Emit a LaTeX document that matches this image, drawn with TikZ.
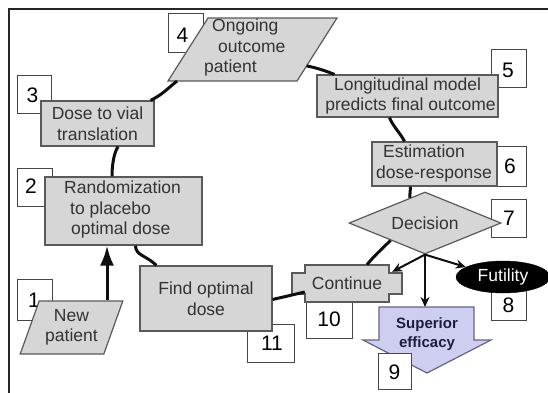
\documentclass[tikz,border=0pt]{standalone}
\usepackage{fontspec}
\setmainfont{Liberation Sans}
\usetikzlibrary{shapes.geometric,arrows.meta,calc}
\definecolor{shapefill}{RGB}{214,214,214}
\definecolor{shapeline}{RGB}{90,90,90}
\definecolor{numline}{RGB}{70,70,70}
\definecolor{lavfill}{RGB}{206,206,240}
\definecolor{lavline}{RGB}{100,100,130}
\definecolor{navytext}{RGB}{30,30,60}
\definecolor{looplinecol}{RGB}{15,15,15}
\tikzset{
  mainfont/.style={font=\fontsize{17.5}{20.5}\selectfont},
  gbox/.style={rectangle, draw=shapeline, fill=shapefill, line width=1.2pt, inner sep=0pt, mainfont, text=black!80},
  para/.style={trapezium, trapezium stretches=true, draw=shapeline, fill=shapefill, line width=1.2pt, inner sep=2pt, mainfont, text=black!80},
  shapepath/.style={draw=shapeline, fill=shapefill, line width=1.2pt},
  numbox/.style={rectangle, draw=numline, fill=white, line width=1.2pt, inner sep=0pt},
  numtext/.style={inner sep=0pt, font=\fontsize{21}{21}\selectfont},
  txt/.style={inner sep=0pt, mainfont, text=black!80},
  loopline/.style={draw=looplinecol, line width=3pt},
  decline/.style={draw=looplinecol, line width=2pt},
  decarrow/.style={decline, -{Stealth[length=10pt,width=9pt]}},
}
\begin{document}
\begin{tikzpicture}[x=1pt,y=-1pt]
\useasboundingbox (0,0) rectangle (548,392);
% frame
\draw[line width=2pt, black!85] (9,400) -- (9,9) -- (560,9);

% number boxes (behind shapes)
\node[numbox, minimum width=35pt, minimum height=41pt, anchor=north west] (l1) at (17,279) {};
\node[numtext] (m1) at (34,300) {1};
\node[numbox, minimum width=35pt, minimum height=38pt, anchor=north west] (l2) at (17,168) {};
\node[numtext] (m2) at (31,186) {2};
\node[numbox, minimum width=34pt, minimum height=38pt, anchor=north west] (l3) at (17,75) {};
\node[numtext] (m3) at (32.5,95.5) {3};
\node[numbox, minimum width=35pt, minimum height=39pt, anchor=north west] (l4) at (168,13) {};
\node[numtext] (m4) at (182.5,35.5) {4};
\node[numbox, minimum width=35pt, minimum height=38pt, anchor=north west] (l5) at (491,49) {};
\node[numtext] (m5) at (508,70.5) {5};
\node[numbox, minimum width=32pt, minimum height=40pt, anchor=north west] (l6) at (494,146) {};
\node[numtext] (m6) at (510,166) {6};
\node[numbox, minimum width=35pt, minimum height=38pt, anchor=north west] (l7) at (491,199) {};
\node[numtext] (m7) at (509,218) {7};
\node[numbox, minimum width=35pt, minimum height=38pt, anchor=north west] (l8) at (491,282) {};
\node[numtext] (m8) at (508.5,305) {8};
\node[numbox, minimum width=46pt, minimum height=42pt, anchor=north west] (l10) at (306,296) {};
\node[numtext] (m10) at (329,319) {10};
\node[numbox, minimum width=47pt, minimum height=38pt, anchor=north west] (l11) at (247,324) {};
\node[numtext] (m11) at (272,343) {11};

% main shapes
\node[para, trapezium left angle=67.5, trapezium right angle=112.5, minimum width=103pt, minimum height=53pt, align=center] (n1) at (71.5,327.5) {New\\patient};
\node[gbox, minimum width=157pt, minimum height=68pt] (n2) at (123.5,211) {};
\node[txt, align=left, anchor=north west] (t2) at (64,181) {Randomization\\\hspace{6pt}to placebo\\\hspace{7pt}optimal dose};
\node[gbox, minimum width=113pt, minimum height=45pt, align=center] (n3) at (97.5,123.5) {Dose to vial\\translation};
% parallelogram 4
\coordinate (n4tl) at (208,18);
\coordinate (n4tr) at (337,18);
\coordinate (n4br) at (297,81);
\coordinate (n4bl) at (168,81);
\draw[shapepath] (n4tl) -- (n4tr) -- (n4br) -- (n4bl) -- cycle;
\node[txt, align=left, anchor=north west] (t4) at (204,19) {\hspace{8pt}Ongoing\\\hspace{14pt}outcome\\patient};
\node[gbox, minimum width=181pt, minimum height=42pt, align=center] (n5) at (407.5,96) {Longitudinal model\\\hspace{6pt}predicts final outcome};
\node[gbox, minimum width=125pt, minimum height=44pt] (n6) at (434.5,164) {};
\node[txt, align=left, anchor=north west] (t6) at (376,145) {\hspace{7pt}Estimation\\dose-response};
\node[diamond, draw=shapeline, fill=shapefill, line width=1.2pt, inner sep=0pt, aspect=2.45, minimum width=152pt, minimum height=62pt, mainfont, text=black!80] (n7) at (425,223) {Decision};
\node[ellipse, fill=black, draw=black, minimum width=94pt, minimum height=32pt, inner sep=0pt, mainfont, text=white] (n8) at (503,277) {Futility};

% superior efficacy arrow
\draw[fill=lavfill, draw=lavline, line width=1.2pt] (379,307) -- (474,307) -- (474,340) -- (491,340) -- (427,373) -- (363,340) -- (379,340) -- cycle;
\node[align=center, inner sep=0pt, text=navytext, font=\fontsize{15}{19}\selectfont\bfseries] (n9) at (427,334) {Superior\\efficacy};
\coordinate (n9top) at (425,307);
\node[numbox, minimum width=33pt, minimum height=36pt, anchor=north west] (l9) at (378,353) {};
\node[numtext] (m9) at (394.5,372) {9};

% continue shape
\draw[shapepath] (305,265) -- (389,265) -- (389,273) -- (402,273) -- (402,294) -- (389,294) -- (389,302) -- (305,302) -- (305,294) -- (292,294) -- (292,273) -- (305,273) -- cycle;
\node[rectangle, minimum width=110pt, minimum height=37pt, inner sep=0pt, mainfont, text=black!80] (n10) at (347,283.5) {Continue};

\node[gbox, minimum width=132pt, minimum height=65pt, align=center] (n11) at (206,298.5) {Find optimal\\dose};

% loop connectors
\coordinate (a12) at (107,0);
\draw[loopline, -{Latex[length=20pt,width=14pt]}] (n1.north -| a12) -- (n2.south -| a12);
\draw[loopline] ([xshift=20.5pt]n3.south) .. controls +(-5,8) and +(0,-8) .. ([xshift=-11.5pt]n2.north);
\draw[loopline] ([xshift=-4pt]n3.north east) .. controls +(12,-6) and +(-10,8) .. ($(n4bl)!0.07!(n4br)$);
\draw[loopline] ($(n4br)!0.24!(n4tr)$) .. controls +(10,2) and +(-10,-4) .. ([xshift=18pt]n5.north west);
\draw[loopline] ([xshift=-18pt]n5.south) .. controls +(3,8) and +(-4,-8) .. ([xshift=-30pt]n6.north);
\draw[loopline] ([xshift=-24pt]n6.south) -- ($(n7.north)!0.2!(n7.west)$);
\draw[loopline] ($(n7.west)!0.55!(n7.south)$) .. controls +(-8,8) and +(6,-8) .. ([xshift=20pt]n10.north);
\draw[loopline] ([shift={(13,8.5)}]n10.west) -- ([yshift=-1pt]n11.east);
\draw[loopline] ([xshift=12pt]n2.south) .. controls +(0,10) and +(-10,-10) .. ([xshift=17pt]n11.north west);

% decision arrows
\draw[decarrow] (n7.south) -- ([shift={(-10,7)}]n10.north east);
\draw[decarrow] (n7.south) -- (n9top);
\draw[decarrow] (n7.south) -- (n8.165);
\end{tikzpicture}
\end{document}
